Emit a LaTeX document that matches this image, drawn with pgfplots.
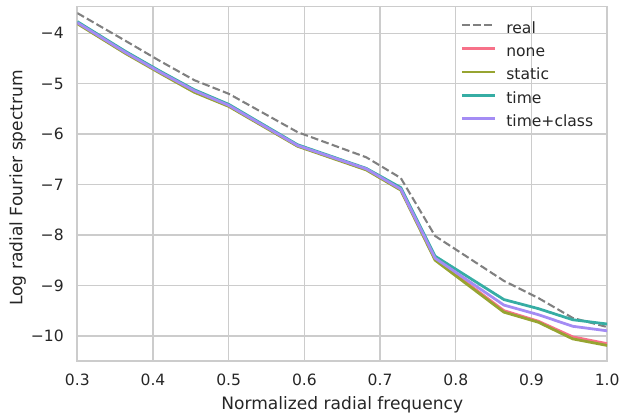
\documentclass[border=0pt]{standalone}
\usepackage{fontspec}
\setmainfont{DejaVu Sans}
\usepackage{pgfplots}
\pgfplotsset{compat=1.18}
\definecolor{cnone}{HTML}{F77189}
\definecolor{cstatic}{HTML}{97A431}
\definecolor{ctime}{HTML}{36ADA4}
\definecolor{cclass}{HTML}{A48CF4}
\definecolor{gridc}{HTML}{CCCCCC}
\definecolor{txt}{HTML}{262626}
\definecolor{realc}{HTML}{808080}
\begin{document}
\begin{tikzpicture}
\path[use as bounding box] (-55.66bp,-38.9bp) rectangle (392.18bp,259.98bp);
\begin{axis}[
  at={(0,0)}, anchor=south west,
  scale only axis, width=381.5bp, height=255.3bp,
  xmin=0.3, xmax=1.0, ymin=-10.5, ymax=-3.47,
  xtick={0.3,0.4,0.5,0.6,0.7,0.8,0.9,1.0},
  xticklabels={0.3,0.4,0.5,0.6,0.7,0.8,0.9,1.0},
  ytick={-10,-9,-8,-7,-6,-5,-4},
  yticklabels={−10,−9,−8,−7,−6,−5,−4},
  major tick length=0pt,
  grid=major,
  major grid style={draw=gridc, line width=1bp},
  axis line style={draw=gridc, line width=1.25bp},
  tick label style={font=\fontsize{11.2bp}{13bp}\selectfont, text=txt},
  xticklabel style={yshift=-6.1bp},
  yticklabel style={xshift=-6.3bp},
  xlabel={Normalized radial frequency},
  ylabel={Log radial Fourier spectrum},
  every axis x label/.style={at={(axis description cs:0.5,0)}, anchor=center, yshift=-31.5bp,
    font=\fontsize{12.3bp}{14bp}\selectfont, text=txt},
  every axis y label/.style={at={(axis description cs:0,0.5)}, xshift=-43bp, yshift=-3bp, rotate=90, anchor=center,
    font=\fontsize{12.3bp}{14bp}\selectfont, text=txt},
  legend cell align=left,
  legend style={draw=none, fill=none, inner sep=0pt, row sep=6.3bp, column sep=0pt,
    at={(axis description cs:0.7227,1)}, anchor=north west, yshift=-11bp,
    font=\fontsize{11.2bp}{13bp}\selectfont, text=txt,
    nodes={inner sep=0pt, text height=8bp, text depth=2.5bp}},
  legend image code/.code={\draw[#1] (0bp,2.9bp) -- (23.8bp,2.9bp); \path (31bp,0bp);},
  clip=true,
]
\addplot[realc, line width=1.5bp, dash pattern=on 5.55bp off 2.4bp] coordinates {
 (0.3,-3.60) (0.3636,-4.15) (0.4091,-4.55) (0.4545,-4.93) (0.5,-5.20) (0.5909,-5.96)
 (0.6818,-6.46) (0.7273,-6.87) (0.7727,-8.02) (0.8636,-8.91) (0.9091,-9.25)
 (0.9545,-9.645) (1.0,-9.825)};
\addlegendentry{real}
\addplot[cnone, line width=2bp] coordinates {
 (0.3,-3.80) (0.3636,-4.39) (0.4091,-4.78) (0.4545,-5.16) (0.5,-5.44) (0.5909,-6.23)
 (0.6818,-6.70) (0.7273,-7.10) (0.7727,-8.48) (0.8636,-9.50) (0.9091,-9.71)
 (0.9545,-10.02) (1.0,-10.155)};
\addlegendentry{none}
\addplot[cstatic, line width=2bp] coordinates {
 (0.3,-3.81) (0.3636,-4.40) (0.4091,-4.79) (0.4545,-5.17) (0.5,-5.45) (0.5909,-6.24)
 (0.6818,-6.71) (0.7273,-7.11) (0.7727,-8.50) (0.8636,-9.53) (0.9091,-9.73)
 (0.9545,-10.06) (1.0,-10.19)};
\addlegendentry{static}
\addplot[ctime, line width=2bp] coordinates {
 (0.3,-3.77) (0.3636,-4.36) (0.4091,-4.75) (0.4545,-5.12) (0.5,-5.41) (0.5909,-6.21)
 (0.6818,-6.68) (0.7273,-7.06) (0.7727,-8.42) (0.8636,-9.28) (0.9091,-9.46)
 (0.9545,-9.68) (1.0,-9.765)};
\addlegendentry{time}
\addplot[cclass, line width=2bp] coordinates {
 (0.3,-3.79) (0.3636,-4.38) (0.4091,-4.77) (0.4545,-5.14) (0.5,-5.43) (0.5909,-6.225)
 (0.6818,-6.69) (0.7273,-7.09) (0.7727,-8.46) (0.8636,-9.39) (0.9091,-9.58)
 (0.9545,-9.81) (1.0,-9.90)};
\addlegendentry{time+class}
\end{axis}
\end{tikzpicture}
\end{document}
